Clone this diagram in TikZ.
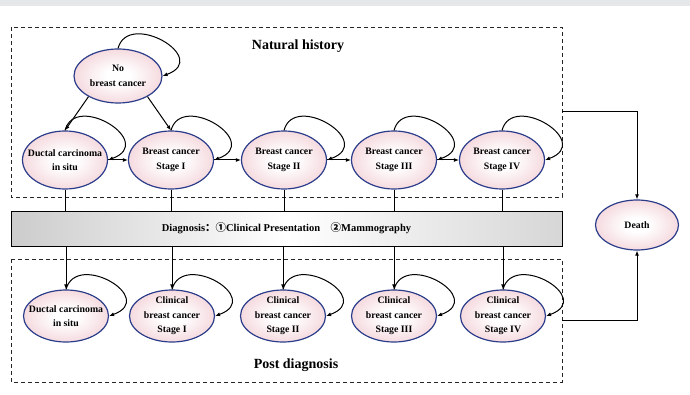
\documentclass[tikz,border=0pt]{standalone}
\usepackage{fontspec}
\setmainfont{Liberation Serif}
\newfontfamily\cjkfont{Noto Sans CJK SC}
\usepackage{tikz}
\usetikzlibrary{arrows.meta,shapes.geometric}
\definecolor{stborder}{HTML}{2B3D8A}
\definecolor{stpink}{HTML}{EEC2CA}
\definecolor{stripgray}{HTML}{E6E7E9}
\pgfdeclareradialshading{pinkball}{\pgfpoint{0bp}{0bp}}{color(0bp)=(white); color(7bp)=(white); color(37bp)=(stpink); color(50bp)=(stpink)}
\tikzstyle{stnode}=[ellipse, draw=stborder, line width=1.2pt, shading=pinkball, minimum width=85pt, minimum height=58pt, inner sep=0pt]
\tikzstyle{stlow}=[stnode, minimum height=52pt]
\tikzstyle{sttext}=[font=\fontsize{9.8}{14.5}\selectfont\bfseries, align=center]
\tikzstyle{arrow}=[draw=black, line width=1pt, >={Latex[length=5pt,width=4pt]}]
\tikzstyle{selfloop}=[to path={.. controls +(75:40) and +(20:52) .. (\tikztotarget)}]
\tikzstyle{dashbox}=[draw=black!85, line width=0.9pt, dash pattern=on 4pt off 3pt]
\tikzstyle{diagbar}=[draw=black, line width=0.9pt, left color=gray!40, right color=gray!32, middle color=white, minimum width=551pt, minimum height=35pt, inner sep=0pt, font=\fontsize{10.5}{12}\selectfont\bfseries]
\tikzstyle{boxtitle}=[font=\fontsize{14}{16}\selectfont\bfseries]

\begin{document}
\begin{tikzpicture}[x=1pt,y=1pt]
    \useasboundingbox (0,0) rectangle (690,394);
    \fill[stripgray] (0,388) rectangle (690,394);
    % the two dashed frames and the diagnosis bar
    \draw[dashbox] (11,367) rectangle (562,197);
    \draw[dashbox] (11,135) rectangle (562,12);
    \node[boxtitle] (nh) at (298,348) {Natural history};
    \node[boxtitle] (pd) at (296,29) {Post diagnosis};
    \node[diagbar] (diag) at (286.5,165.5) {Diagnosis{\cjkfont ：①}Clinical Presentation\quad{\cjkfont ②}Mammography};
    \coordinate (nhexit) at (562,282);
    \coordinate (pdexit) at (562,74);
    \begin{scope}
        \node (nobc) at (118,318)[stnode, minimum width=88pt, minimum height=54pt, label={[sttext]center:{No\\breast cancer}}] {};
        \node (t0) at (65,234)[stnode, label={[sttext]center:{Ductal carcinoma\\in situ}}] {};
        \node (t1) at (171,234)[stnode, label={[sttext]center:{Breast cancer\\Stage I}}] {};
        \node (t2) at (284,234)[stnode, label={[sttext]center:{Breast cancer\\Stage II}}] {};
        \node (t3) at (394,234)[stnode, label={[sttext]center:{Breast cancer\\Stage III}}] {};
        \node (t4) at (502,234)[stnode, label={[sttext]center:{Breast cancer\\Stage IV}}] {};
        \node (b0) at (66,78)[stlow, label={[sttext]center:{Ductal carcinoma\\in situ}}] {};
        \node (b1) at (172,78)[stlow, label={[sttext]center:{Clinical\\breast cancer\\Stage I}}] {};
        \node (b2) at (283,78)[stlow, label={[sttext]center:{Clinical\\breast cancer\\Stage II}}] {};
        \node (b3) at (394,78)[stlow, label={[sttext]center:{Clinical\\breast cancer\\Stage III}}] {};
        \node (b4) at (503,78)[stlow, label={[sttext]center:{Clinical\\breast cancer\\Stage IV}}] {};
        \node (death) at (637,169)[stnode, minimum width=83pt, minimum height=50pt, label={[sttext]center:Death}] {};
    \end{scope}
    \begin{scope}[arrow]
        % natural history
        \path [->] (nobc.215) edge (t0.north);
        \path [->] (nobc.325) edge (t1.north);
        \path [->] (t0) edge (t1);
        \path [->] (t1) edge (t2);
        \path [->] (t2) edge (t3);
        \path [->] (t3) edge (t4);
        \path [->] (nobc.north) edge[selfloop] (nobc.east);
        \path [->] (t0.north) edge[selfloop] (t0.east);
        \path [->] (t1.north) edge[selfloop] (t1.east);
        \path [->] (t2.north) edge[selfloop] (t2.east);
        \path [->] (t3.north) edge[selfloop] (t3.east);
        \path [->] (t4.north) edge[selfloop] (t4.east);
        % through the diagnosis bar
        \path [-] (t0.south) edge (t0.south |- diag.north);
        \path [-] (t1.south) edge (t1.south |- diag.north);
        \path [-] (t2.south) edge (t2.south |- diag.north);
        \path [-] (t3.south) edge (t3.south |- diag.north);
        \path [-] (t4.south) edge (t4.south |- diag.north);
        \path [->] (b0.north |- diag.south) edge (b0.north);
        \path [->] (b1.north |- diag.south) edge (b1.north);
        \path [->] (b2.north |- diag.south) edge (b2.north);
        \path [->] (b3.north |- diag.south) edge (b3.north);
        \path [->] (b4.north |- diag.south) edge (b4.north);
        % post diagnosis
        \path [->] (b0.north) edge[selfloop] (b0.east);
        \path [->] (b1.north) edge[selfloop] (b1.east);
        \path [->] (b2.north) edge[selfloop] (b2.east);
        \path [->] (b3.north) edge[selfloop] (b3.east);
        \path [->] (b4.north) edge[selfloop] (b4.east);
        % to death
        \draw [->] (nhexit) -| (death.north);
        \draw [->] (pdexit) -| (death.south);
    \end{scope}
\end{tikzpicture}
\end{document}
